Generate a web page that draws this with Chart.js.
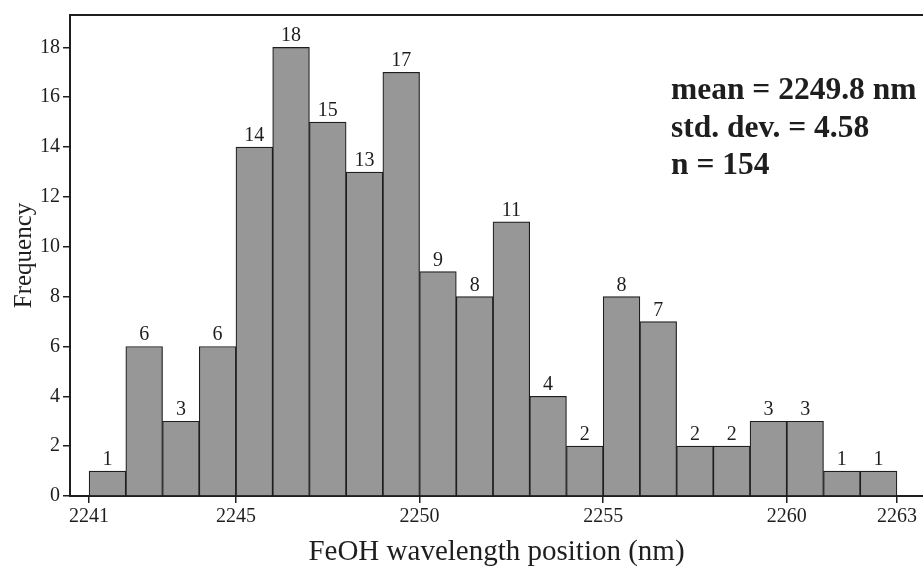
<!DOCTYPE html>
<html>
<head>
<meta charset="utf-8">
<script src="https://cdn.jsdelivr.net/npm/chart.js@4.4.1/dist/chart.umd.min.js"></script>
<style>
    html, body { margin: 0; padding: 0; background: #fff; }
    #wrap { width: 923px; height: 569px; }
</style>
</head>
<body>
<div id="wrap"><canvas id="histChart"></canvas></div>
<script>
// bin start (nm), each bin is 1 nm wide
const binStarts = [2241, 2242, 2243, 2244, 2245, 2246, 2247, 2248, 2249, 2250, 2251,
                   2252, 2253, 2254, 2255, 2256, 2257, 2258, 2259, 2260, 2261, 2262];
const counts = [1, 6, 3, 6, 14, 18, 15, 13, 17, 9, 8, 11, 4, 2, 8, 7, 2, 2, 3, 3, 1, 1];
const xTicks = [2241, 2245, 2250, 2255, 2260, 2263];
const yTicks = [0, 2, 4, 6, 8, 10, 12, 14, 16, 18];
const statLines = ['mean = 2249.8 nm', 'std. dev. = 4.58', 'n = 154'];

const ink = '#1e1e1e';
const serif = "'Liberation Serif', 'DejaVu Serif', serif";

const extras = {
    id: 'extras',
    afterDatasetsDraw(chart) {
        const ctx = chart.ctx;
        const area = chart.chartArea;
        ctx.save();
        // bar value labels
        ctx.fillStyle = ink;
        ctx.font = '20px ' + serif;
        ctx.textAlign = 'center';
        ctx.textBaseline = 'alphabetic';
        chart.getDatasetMeta(0).data.forEach(function (bar, i) {
            ctx.fillText(String(counts[i]), bar.x, bar.y - 6);
        });
        // top frame line
        ctx.strokeStyle = ink;
        ctx.lineWidth = 2;
        ctx.beginPath();
        ctx.moveTo(area.left - 1, area.top);
        ctx.lineTo(area.right, area.top);
        ctx.stroke();
        // stats text
        ctx.font = 'bold 31.5px ' + serif;
        ctx.textAlign = 'left';
        statLines.forEach(function (t, i) {
            ctx.fillText(t, area.left + 601, area.top + 84 + i * 37.5);
        });
        ctx.restore();
    }
};

new Chart(document.getElementById('histChart'), {
    type: 'bar',
    data: {
        datasets: [{
            data: binStarts.map(function (b, i) { return { x: b + 0.5, y: counts[i] }; }),
            backgroundColor: '#979797',
            borderColor: ink,
            borderWidth: 1.2,
            barPercentage: 1,
            categoryPercentage: 1
        }]
    },
    options: {
        responsive: true,
        maintainAspectRatio: false,
        animation: false,
        layout: { padding: { top: 14, right: 0, left: 0, bottom: 0 } },
        plugins: {
            legend: { display: false },
            tooltip: { enabled: false }
        },
        scales: {
            x: {
                type: 'linear',
                offset: false,
                min: 2240.48,
                max: 2263.71,
                afterBuildTicks: function (scale) {
                    scale.ticks = xTicks.map(function (v) { return { value: v }; });
                },
                afterFit: function (scale) { scale.height = 73; },
                ticks: {
                    autoSkip: false,
                    maxRotation: 0,
                    padding: 2,
                    color: ink,
                    font: { family: serif, size: 20 },
                    callback: function (v) { return String(v); }
                },
                grid: {
                    display: true,
                    offset: false,
                    drawOnChartArea: false,
                    drawTicks: true,
                    tickLength: 7,
                    color: ink,
                    lineWidth: 1.5
                },
                border: { display: true, color: ink, width: 2 },
                title: {
                    display: true,
                    text: 'FeOH wavelength position (nm)',
                    color: ink,
                    font: { family: serif, size: 29, lineHeight: 1 },
                    padding: { top: 0, bottom: 2 }
                }
            },
            y: {
                min: 0,
                max: 19.3,
                afterBuildTicks: function (scale) {
                    scale.ticks = yTicks.map(function (v) { return { value: v }; });
                },
                afterFit: function (scale) { scale.width = 70; },
                ticks: {
                    padding: 3,
                    color: ink,
                    font: { family: serif, size: 20 },
                    callback: function (v) { return String(v); }
                },
                grid: {
                    display: true,
                    drawOnChartArea: false,
                    drawTicks: true,
                    tickLength: 7,
                    color: ink,
                    lineWidth: 1.5
                },
                border: { display: true, color: ink, width: 2 },
                title: {
                    display: true,
                    text: 'Frequency',
                    color: ink,
                    font: { family: serif, size: 25, lineHeight: 1.2 },
                    padding: { top: 9, bottom: 0 }
                }
            }
        }
    },
    plugins: [extras]
});
</script>
</body>
</html>
